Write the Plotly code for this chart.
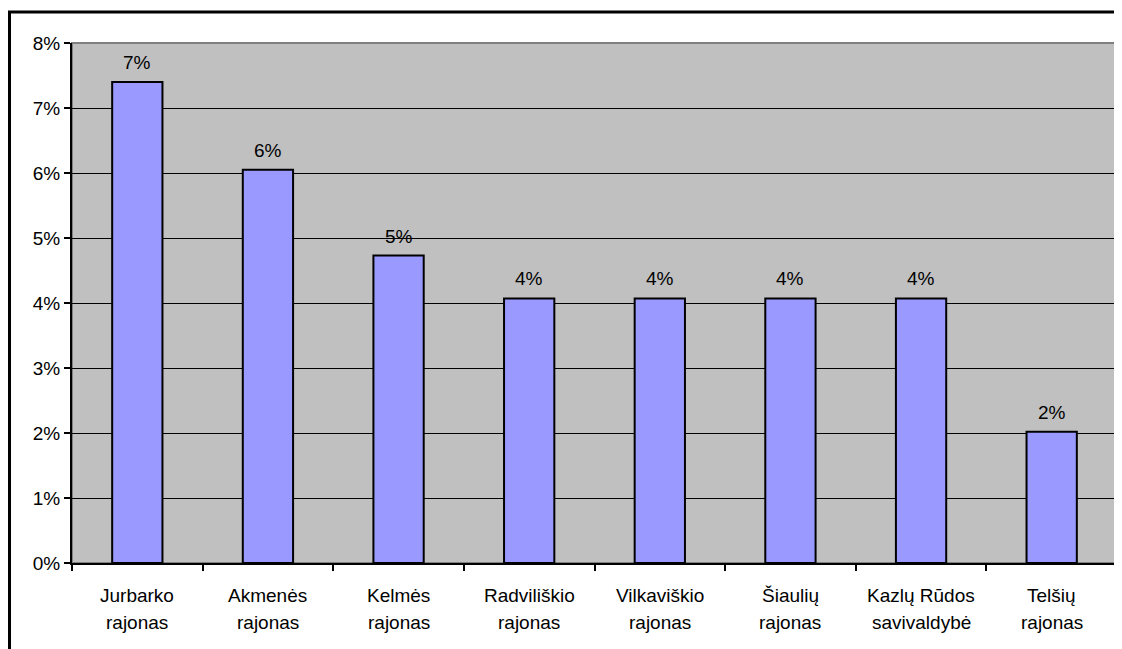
import plotly.graph_objects as go

categories = ["Jurbarko rajonas", "Akmenės rajonas", "Kelmės rajonas", "Radviliškio rajonas",
              "Vilkaviškio rajonas", "Šiaulių rajonas", "Kazlų Rūdos savivaldybė", "Telšių rajonas"]
line1 = ["Jurbarko", "Akmenės", "Kelmės", "Radviliškio", "Vilkaviškio", "Šiaulių", "Kazlų Rūdos", "Telšių"]
line2 = ["rajonas", "rajonas", "rajonas", "rajonas", "rajonas", "rajonas", "savivaldybė", "rajonas"]
values = [7.40, 6.05, 4.73, 4.07, 4.07, 4.07, 4.07, 2.02]
y_ticks = [0, 1, 2, 3, 4, 5, 6, 7, 8]

FONT = "Liberation Sans, Arial, sans-serif"
FS = 19

fig = go.Figure()
fig.add_trace(go.Bar(
    x=categories, y=values, width=0.385,
    marker=dict(color="#9999FF", line=dict(color="black", width=2)),
    hoverinfo="skip",
))

for c, v in zip(categories, values):
    fig.add_annotation(x=c, y=v, xref="x", yref="y", text=f"{round(v)}%",
                       showarrow=False, yanchor="bottom", yshift=7,
                       font=dict(family=FONT, size=FS, color="black"))

for c, a, b in zip(categories, line1, line2):
    fig.add_annotation(x=c, y=0, xref="x", yref="paper", text=a, showarrow=False,
                       yanchor="middle", yshift=-32, font=dict(family=FONT, size=FS, color="black"))
    fig.add_annotation(x=c, y=0, xref="x", yref="paper", text=b, showarrow=False,
                       yanchor="middle", yshift=-59, font=dict(family=FONT, size=FS, color="black"))

# plot-area border (top/right gray)
fig.add_shape(type="rect", xref="paper", yref="paper", x0=0, x1=1, y0=0, y1=1,
              line=dict(color="#808080", width=2), layer="below")
# outer chart border
fig.add_shape(type="rect", xref="paper", yref="paper", x0=-0.0598, x1=1.2, y0=-0.3, y1=1.0596,
              line=dict(color="black", width=3))

fig.update_layout(
    width=1114, height=641,
    margin=dict(l=64, r=5, t=35, b=86),
    paper_bgcolor="white", plot_bgcolor="#C0C0C0",
    showlegend=False,
    font=dict(family=FONT, size=FS, color="black"),
    bargap=0.6,
)
fig.update_xaxes(
    type="category", showticklabels=False, tickson="boundaries", ticks="outside",
    ticklen=6, tickwidth=2, tickcolor="black", showgrid=False,
    showline=True, linecolor="black", linewidth=2, zeroline=False,
)
fig.update_yaxes(
    range=[0, 8], tickvals=y_ticks, ticktext=[f"{t}%" for t in y_ticks],
    ticks="outside", ticklen=6, tickwidth=2, tickcolor="black",
    showgrid=True, gridcolor="black", gridwidth=1,
    showline=True, linecolor="black", linewidth=2, zeroline=False,
    tickfont=dict(family=FONT, size=FS, color="black"),
)

fig.write_html("out.html", post_script="document.body.style.overflow='hidden';")
